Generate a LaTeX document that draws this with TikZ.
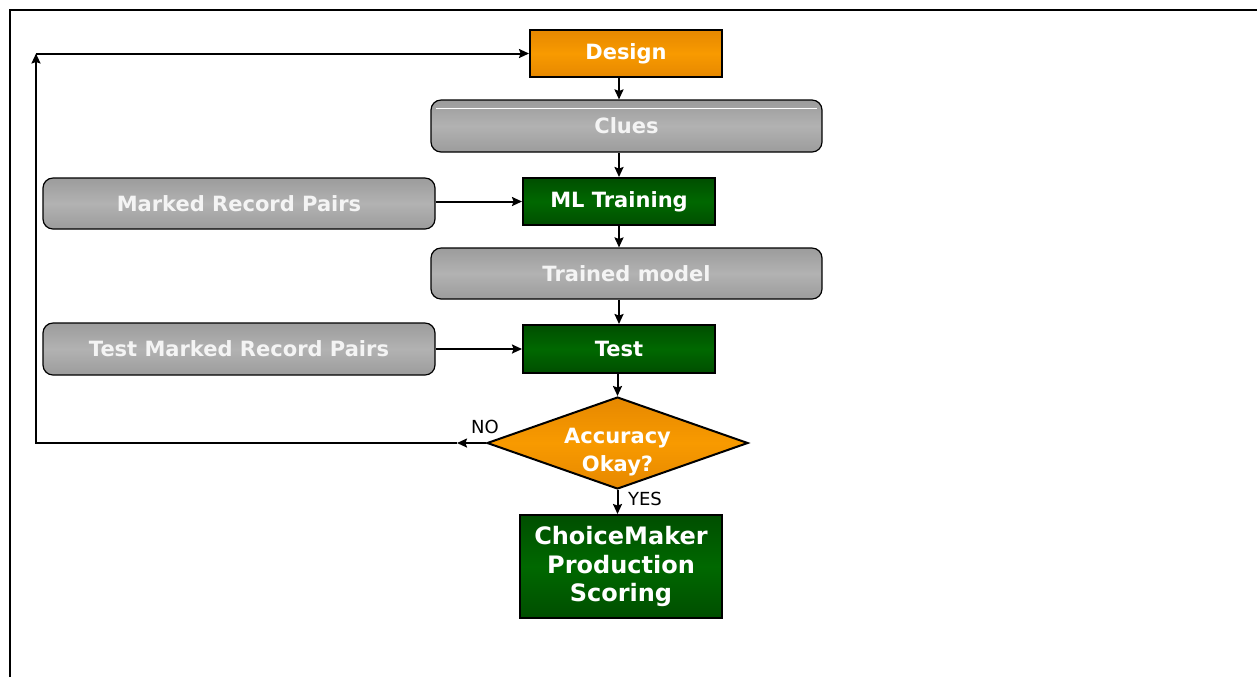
\documentclass[tikz,border=0pt]{standalone}
\usepackage{fontspec}
\setmainfont{DejaVu Sans}
\usepackage{tikz}
\usetikzlibrary{shapes.geometric,arrows.meta}
\usepackage{xcolor}

\definecolor{orangetop}{RGB}{230,136,0}
\definecolor{orangemid}{RGB}{248,154,0}
\definecolor{greentop}{RGB}{0,78,0}
\definecolor{greenmid}{RGB}{0,104,0}
\definecolor{graytop}{RGB}{156,156,156}
\definecolor{graymid}{RGB}{178,178,178}
\definecolor{graytext}{RGB}{244,244,244}

\tikzset{
  flowbox/.style={draw=black,line width=1pt,inner sep=0pt,align=center,
    text=white,font=\bfseries\fontsize{10.5}{13.5}\selectfont},
  orangebox/.style={flowbox,top color=orangetop,bottom color=orangetop,middle color=orangemid},
  greenbox/.style={flowbox,top color=greentop,bottom color=greentop,middle color=greenmid},
  graybox/.style={flowbox,line width=0.6pt,rounded corners=5pt,text=graytext,
    top color=graytop,bottom color=graytop,middle color=graymid},
  flowarrow/.style={line width=1pt,-{Stealth[length=5pt,width=4.5pt,inset=0.8pt]}},
  answer/.style={font=\fontsize{9}{11}\selectfont,inner sep=0pt}
}

\begin{document}
\begin{tikzpicture}[x=0.5pt,y=0.5pt,yscale=-1,xscale=1]
  \useasboundingbox (0,0) rectangle (1257,677);
  %Frame
  \draw [line width=1pt] (10,677) -- (10,10) -- (1257,10) ;

  %Shape: Rectangle [design]
  \node [orangebox,minimum width=96pt,minimum height=23.5pt] (design) at (626,53.5) {Design};
  %Shape: Rounded Rect [clues]
  \node [graybox,minimum width=195.5pt,minimum height=26pt] (clues) at (626.5,126) {Clues};
  \draw [white,line width=0.8pt] ([xshift=3pt,yshift=4.5pt]clues.north west) -- ([xshift=-3pt,yshift=4.5pt]clues.north east) ;
  %Shape: Rectangle [mltrain]
  \node [greenbox,minimum width=96pt,minimum height=23.5pt] (mltrain) at (619,201.5) {ML Training};
  %Shape: Rounded Rect [marked]
  \node [graybox,minimum width=196pt,minimum height=25.5pt] (marked) at (239,203.5) {Marked Record Pairs};
  %Shape: Rounded Rect [trained]
  \node [graybox,minimum width=195.5pt,minimum height=25.5pt] (trained) at (626.5,273.5) {Trained model};
  %Shape: Rectangle [test]
  \node [greenbox,minimum width=96pt,minimum height=24pt] (test) at (619,349) {Test};
  %Shape: Rounded Rect [testmarked]
  \node [graybox,minimum width=196pt,minimum height=26pt] (testmarked) at (239,349) {Test Marked Record Pairs};
  %Shape: Diamond [accuracy]
  \node [orangebox,shape=diamond,shape aspect=2.8,minimum width=130.5pt,minimum height=46pt] (accuracy) at (617.5,443) {};
  \node [flowbox,draw=none,font=\bfseries\fontsize{10.5}{14}\selectfont] (accuracytext) at (617.5,452) {Accuracy\\Okay?};
  %Shape: Rectangle [production]
  \node [greenbox,font=\bfseries\fontsize{12}{14.25}\selectfont,minimum width=101pt,minimum height=51.5pt] (production) at (621,566.5) {ChoiceMaker\\Production\\Scoring};

  %Straight Lines
  \draw [flowarrow] (design.south -| mltrain) -- (clues.north -| mltrain) ;
  \draw [flowarrow] (clues.south -| mltrain) -- (mltrain.north) ;
  \draw [flowarrow] (mltrain.south) -- (trained.north -| mltrain) ;
  \draw [flowarrow] (trained.south -| test) -- (test.north) ;
  \draw [flowarrow] (test.south -| accuracy) -- (accuracy.north) ;
  \draw [flowarrow] (accuracy.south) -- (production.north -| accuracy) ;
  \draw [flowarrow] (marked.east |- mltrain) -- (mltrain.west) ;
  \draw [flowarrow] (testmarked.east |- test) -- (test.west) ;

  %Loop back
  \coordinate (noarrow) at (457,443) ;
  \coordinate (loopbottom) at (36,443) ;
  \coordinate (looptop) at (36,53.5) ;
  \draw [flowarrow] (accuracy.west) -- (noarrow) ;
  \draw [flowarrow] (noarrow) -- (loopbottom) -- (looptop) ;
  \draw [flowarrow] (looptop) -- (design.west) ;

  % Text Node
  \node [answer] (no) at (485,427) {NO};
  % Text Node
  \node [answer] (yes) at (645,499) {YES};
\end{tikzpicture}
\end{document}
